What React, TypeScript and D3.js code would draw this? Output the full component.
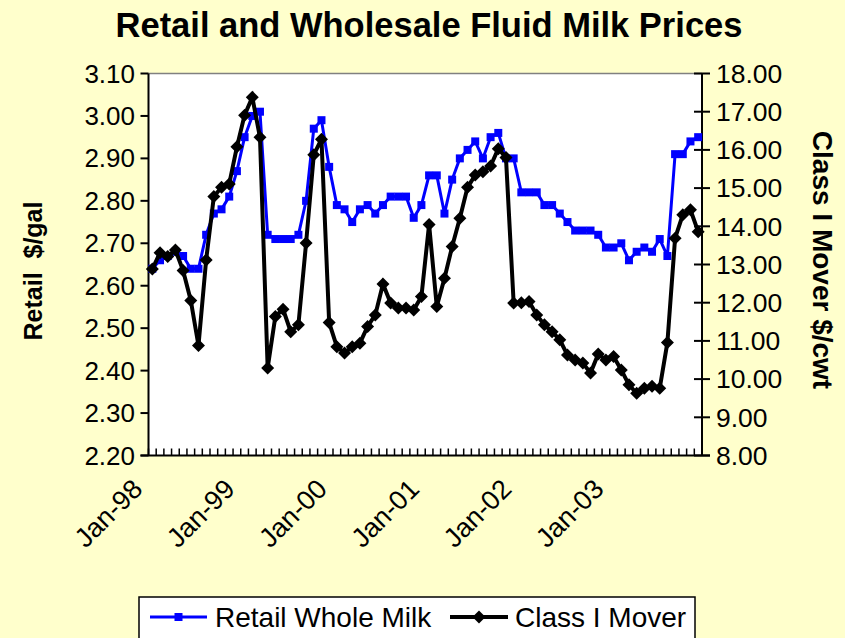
import React from "react";
import * as d3 from "d3";

const YEARS = ["98", "99", "00", "01", "02", "03"];
const MONTHS = ["Jan", "Feb", "Mar", "Apr", "May", "Jun", "Jul", "Aug", "Sep", "Oct", "Nov", "Dec"];
const CATEGORIES: string[] = YEARS.flatMap((y) => MONTHS.map((m) => `${m}-${y}`));
const X_TICK_LABELS = ["Jan-98", "Jan-99", "Jan-00", "Jan-01", "Jan-02", "Jan-03"];

const RETAIL = [
  2.64, 2.66, 2.67, 2.68, 2.67, 2.64, 2.64, 2.72, 2.77, 2.78, 2.81, 2.87,
  2.95, 3.0, 3.01, 2.72, 2.71, 2.71, 2.71, 2.72, 2.8, 2.97, 2.99, 2.88,
  2.79, 2.78, 2.75, 2.78, 2.79, 2.77, 2.79, 2.81, 2.81, 2.81, 2.76, 2.79,
  2.86, 2.86, 2.77, 2.85, 2.9, 2.92, 2.94, 2.9, 2.95, 2.96, 2.9, 2.9,
  2.82, 2.82, 2.82, 2.79, 2.79, 2.77, 2.75, 2.73, 2.73, 2.73, 2.72, 2.69,
  2.69, 2.7, 2.66, 2.68, 2.69, 2.68, 2.71, 2.67, 2.91, 2.91, 2.94, 2.95,
];

const CLASS_I = [
  12.88, 13.31, 13.21, 13.38, 12.84, 12.06, 10.88, 13.12, 14.78, 15.02, 15.11, 16.08,
  16.91, 17.38, 16.33, 10.29, 11.64, 11.83, 11.24, 11.42, 13.56, 15.87, 16.28, 11.48,
  10.85, 10.68, 10.85, 10.94, 11.38, 11.68, 12.49, 11.99, 11.86, 11.86, 11.81, 12.16,
  14.05, 11.9, 12.64, 13.47, 14.21, 15.02, 15.34, 15.43, 15.58, 16.03, 15.8, 11.99,
  12.0, 12.03, 11.68, 11.42, 11.24, 11.03, 10.63, 10.5, 10.42, 10.16, 10.66, 10.5,
  10.59, 10.24, 9.85, 9.63, 9.76, 9.81, 9.76, 10.96, 13.69, 14.3, 14.43, 13.86,
];

const LEFT_TICKS = [2.2, 2.3, 2.4, 2.5, 2.6, 2.7, 2.8, 2.9, 3.0, 3.1];
const RIGHT_TICKS = [8, 9, 10, 11, 12, 13, 14, 15, 16, 17, 18];

const TITLE = "Retail and Wholesale Fluid Milk Prices";
const LEFT_TITLE = "Retail  $/gal";
const RIGHT_TITLE = "Class I Mover $/cwt";
const SERIES_NAMES = ["Retail Whole Milk", "Class I Mover"];

const W = 845;
const H = 638;
const FONT = "Arial, 'Liberation Sans', sans-serif";
const BG = "#FFFFCC";
const BLUE = "#0000FF";

export default function App() {
  const left = 148.5;
  const right = 702;
  const top = 73.5;
  const bottom = 455.5;

  const x = d3.scaleBand<string>().domain(CATEGORIES).range([left, right]).padding(0);
  const cx = (c: string) => (x(c) as number) + x.bandwidth() / 2;
  const yL = d3.scaleLinear().domain([2.2, 3.1]).range([bottom, top]);
  const yR = d3.scaleLinear().domain([8, 18]).range([bottom, top]);

  const lineL = d3
    .line<number>()
    .x((_, i) => cx(CATEGORIES[i]))
    .y((d) => yL(d));
  const lineR = d3
    .line<number>()
    .x((_, i) => cx(CATEGORIES[i]))
    .y((d) => yR(d));

  const boundaries = CATEGORIES.map((c) => x(c) as number).concat([right]);

  const sq = 8;
  const dm = 6.5;
  const diamond = (px: number, py: number, r: number) =>
    `M${px},${py - r}L${px + r},${py}L${px},${py + r}L${px - r},${py}Z`;

  return (
    <svg
      width={W}
      height={H}
      style={{ position: "absolute", left: 0, top: 0, display: "block" }}
      fontFamily={FONT}
    >
      <rect x={0} y={0} width={W} height={H} fill={BG} />
      <text x={429} y={37} textAnchor="middle" fontSize={34.5} fontWeight="bold" fill="#000">
        {TITLE}
      </text>

      {/* plot area */}
      <rect x={left} y={top} width={right - left} height={bottom - top} fill="#fff" />
      <line x1={left} x2={right} y1={top} y2={top} stroke="#808080" strokeWidth={1.5} />

      {/* bottom ticks */}
      {boundaries.map((b, i) => (
        <line key={"bt" + i} x1={b} x2={b} y1={bottom} y2={bottom - 7} stroke="#000" strokeWidth={1.5} />
      ))}

      {/* axes lines */}
      <line x1={left} x2={left} y1={top} y2={bottom} stroke="#000" strokeWidth={2} />
      <line x1={right} x2={right} y1={top} y2={bottom} stroke="#000" strokeWidth={2} />
      <line x1={left - 8} x2={right + 8} y1={bottom} y2={bottom} stroke="#000" strokeWidth={2} />

      {/* left ticks */}
      {LEFT_TICKS.map((t) => (
        <g key={"lt" + t}>
          <line x1={left - 8} x2={left} y1={yL(t)} y2={yL(t)} stroke="#000" strokeWidth={2} />
          <text x={135} y={yL(t)} dy="0.35em" textAnchor="end" fontSize={26} fill="#000">
            {t.toFixed(2)}
          </text>
        </g>
      ))}

      {/* right ticks */}
      {RIGHT_TICKS.map((t) => (
        <g key={"rt" + t}>
          <line x1={right - 8} x2={right + 8} y1={yR(t)} y2={yR(t)} stroke="#000" strokeWidth={2} />
          <text x={716} y={yR(t)} dy="0.35em" textAnchor="start" fontSize={26.5} fill="#000">
            {t.toFixed(2)}
          </text>
        </g>
      ))}

      {/* x labels */}
      {X_TICK_LABELS.map((lab) => {
        const px = cx(lab) - 15;
        const py = 484;
        return (
          <text
            key={lab}
            transform={`translate(${px},${py}) rotate(-45)`}
            textAnchor="end"
            dy="0.35em"
            fontSize={27}
            fill="#000"
          >
            {lab}
          </text>
        );
      })}

      {/* axis titles */}
      <text
        transform={`translate(42,271) rotate(-90)`}
        textAnchor="middle"
        fontSize={25}
        fontWeight="bold"
        fill="#000"
        style={{ whiteSpace: "pre" }}
      >
        {LEFT_TITLE}
      </text>
      <text
        transform={`translate(813,260) rotate(90)`}
        textAnchor="middle"
        fontSize={28}
        fontWeight="bold"
        fill="#000"
      >
        {RIGHT_TITLE}
      </text>

      {/* series */}
      <path d={lineL(RETAIL) || ""} fill="none" stroke={BLUE} strokeWidth={3} />
      {RETAIL.map((v, i) => (
        <rect
          key={"s" + i}
          x={cx(CATEGORIES[i]) - sq / 2}
          y={yL(v) - sq / 2}
          width={sq}
          height={sq}
          fill={BLUE}
        />
      ))}
      <path d={lineR(CLASS_I) || ""} fill="none" stroke="#000" strokeWidth={4} />
      {CLASS_I.map((v, i) => (
        <path key={"d" + i} d={diamond(cx(CATEGORIES[i]), yR(v), dm)} fill="#000" />
      ))}

      {/* legend */}
      <rect x={139} y={597} width={556} height={60} fill="#fff" stroke="#000" strokeWidth={1.5} />
      <line x1={150} x2={207} y1={617} y2={617} stroke={BLUE} strokeWidth={3} />
      <rect x={178.5 - sq / 2} y={617 - sq / 2} width={sq} height={sq} fill={BLUE} />
      <text x={215} y={617} dy="0.35em" fontSize={28} fill="#000">
        {SERIES_NAMES[0]}
      </text>
      <line x1={450} x2={508} y1={617} y2={617} stroke="#000" strokeWidth={4} />
      <path d={diamond(479, 617, dm)} fill="#000" />
      <text x={515} y={617} dy="0.35em" fontSize={28} fill="#000">
        {SERIES_NAMES[1]}
      </text>
    </svg>
  );
}
